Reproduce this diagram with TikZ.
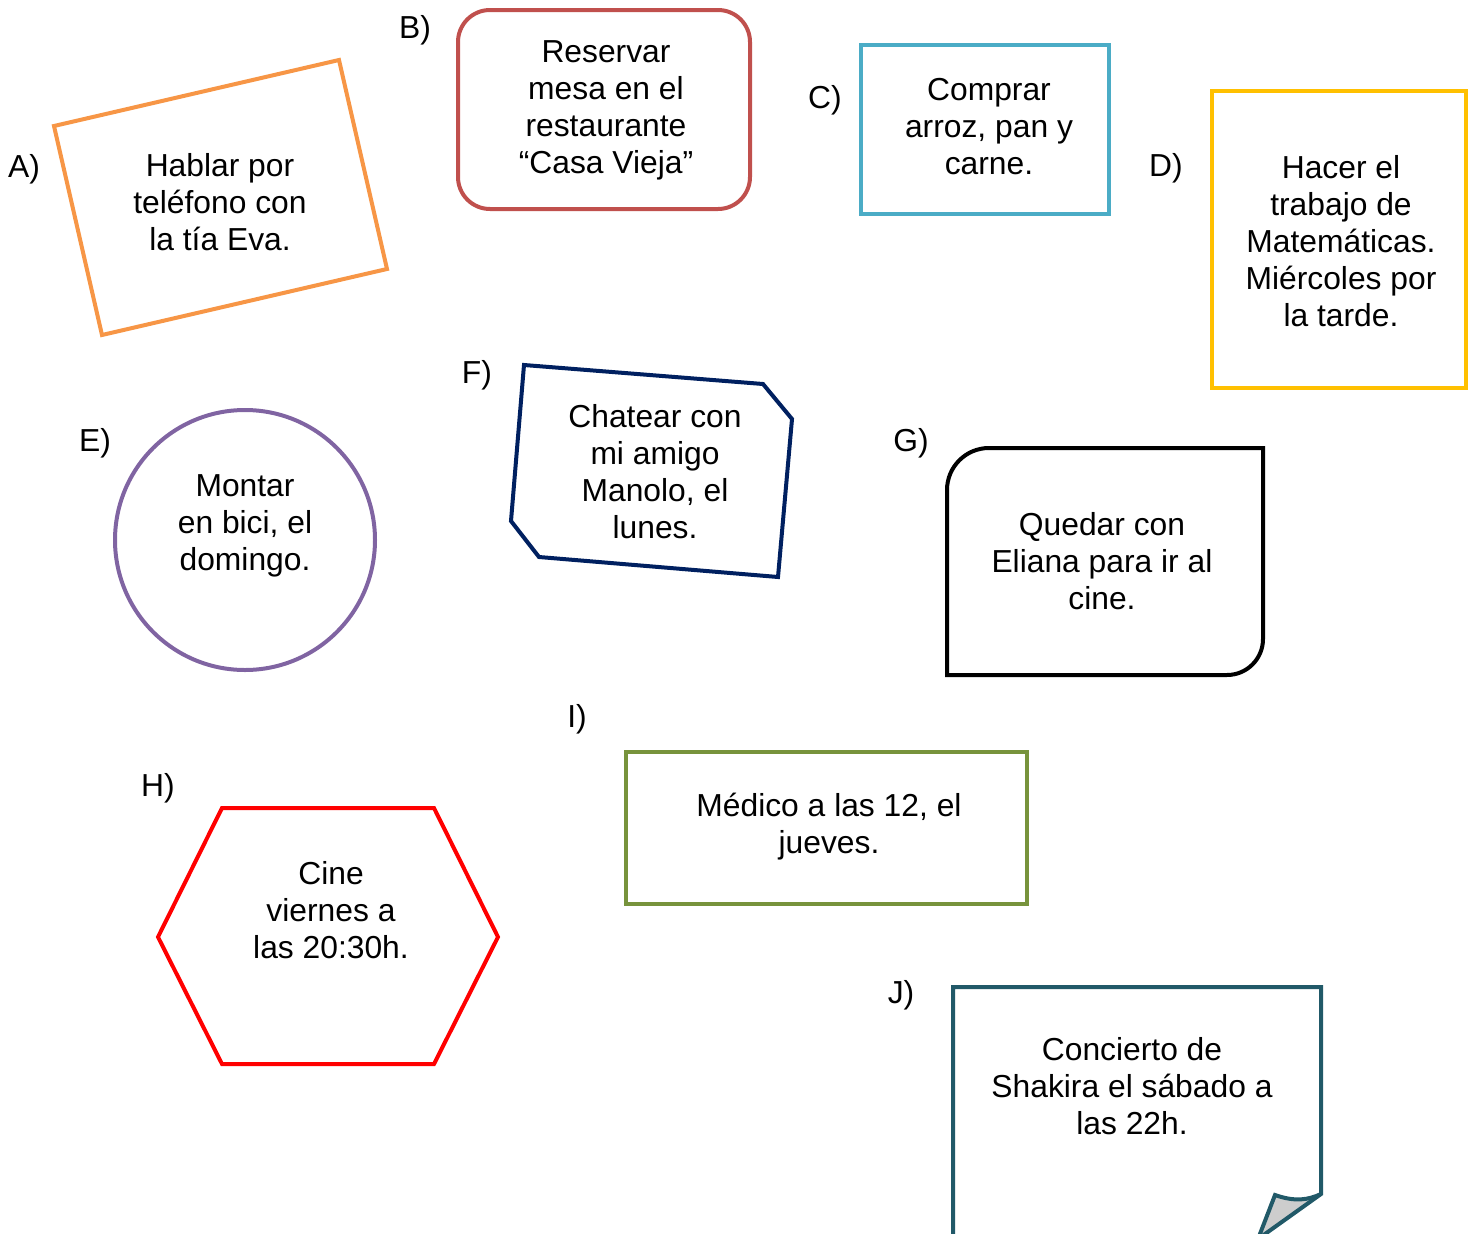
\documentclass[tikz,border=0pt]{standalone}
\usepackage{fontspec}
\setmainfont{Liberation Sans}
\definecolor{cA}{HTML}{F79646}
\definecolor{cB}{HTML}{C0504D}
\definecolor{cC}{HTML}{4BACC6}
\definecolor{cD}{HTML}{FFC000}
\definecolor{cE}{HTML}{8064A2}
\definecolor{cF}{HTML}{002060}
\definecolor{cH}{HTML}{FF0000}
\definecolor{cI}{HTML}{77933C}
\definecolor{cJ}{HTML}{215968}
\definecolor{cfold}{HTML}{CDCDCD}
\tikzset{
  txt/.style={align=center, inner sep=0pt, font=\fontsize{31.8}{37}\selectfont},
  lbl/.style={inner sep=0pt, font=\fontsize{31.8}{37}\selectfont},
  shp/.style={line width=4pt, line join=miter},
}
\begin{document}
\begin{tikzpicture}[x=1pt,y=-1pt]
\useasboundingbox (0,0) rectangle (1475,1234);
\begin{scope}
\clip (0,0) rectangle (1475,1234);
% A
\draw[shp, cA] (54,126) -- (339,60) -- (387,269) -- (102,335) -- cycle;
% B
\draw[shp, cB, rounded corners=32pt] (458,10) rectangle (750,209);
% C
\draw[shp, cC] (861,45) rectangle (1109,214);
% D
\draw[shp, cD] (1212,91) rectangle (1466,388);
% E
\draw[shp, cE] (245,540) circle[radius=130];
% F
\draw[shp, cF] (524,365) -- (763,384) -- (792,419) -- (778,577) -- (539,557) -- (511,521) -- cycle;
% G
\draw[shp, black] (947,675) -- (947,490) .. controls (947,466.8) and (965.8,448) .. (989,448)
   -- (1263,448) -- (1263,639) .. controls (1263,658.9) and (1246.9,675) .. (1227,675) -- cycle;
% H
\draw[shp, cH] (158,937) -- (222,808) -- (434,808) -- (498,937) -- (434,1064) -- (222,1064) -- cycle;
% I
\draw[shp, cI] (626,752) rectangle (1027,904);
% J
\fill[cfold] (1275,1195) .. controls (1295,1202) and (1308,1200) .. (1321,1194) -- (1258,1239) -- cycle;
\draw[shp, cJ] (953,1300) -- (953,987) -- (1321,987) -- (1321,1194) -- (1258,1239) -- (1240,1300);
\draw[shp, cJ] (1321,1194) .. controls (1308,1200) and (1295,1202) .. (1275,1195) -- (1258,1239);
\end{scope}
% labels
\node[lbl] (la) at (24,169) {A)};
\node[lbl] (lb) at (415,30) {B)};
\node[lbl] (lc) at (825,100) {C)};
\node[lbl] (ld) at (1166,168) {D)};
\node[lbl] (le) at (95,443) {E)};
\node[lbl] (lf) at (477,375) {F)};
\node[lbl] (lg) at (911,443) {G)};
\node[lbl] (lh) at (158,788) {H)};
\node[lbl] (li) at (577,719) {I)};
\node[lbl] (lj) at (901,995) {J)};
% texts
\node[txt] (ta) at (220,202) {Hablar por\\teléfono con\\la tía Eva.};
\node[txt] (tb) at (606,110) {Reservar\\mesa en el\\restaurante\\“Casa Vieja”};
\node[txt] (tc) at (989,127) {Comprar\\arroz, pan y\\carne.};
\node[txt] (td) at (1341,241) {Hacer el\\trabajo de\\Matemáticas.\\Miércoles por\\la tarde.};
\node[txt] (te) at (245,526) {Montar\\en bici, el\\domingo.};
\node[txt] (tf) at (655,472) {Chatear con\\mi amigo\\Manolo, el\\lunes.};
\node[txt] (tg) at (1102,561) {Quedar con\\Eliana para ir al\\cine.};
\node[txt] (th) at (331,910) {Cine\\viernes a\\las 20:30h.};
\node[txt] (ti) at (829,827) {Médico a las 12, el\\jueves.};
\node[txt] (tj) at (1132,1086) {Concierto de\\Shakira el sábado a\\las 22h.};
\end{tikzpicture}
\end{document}
